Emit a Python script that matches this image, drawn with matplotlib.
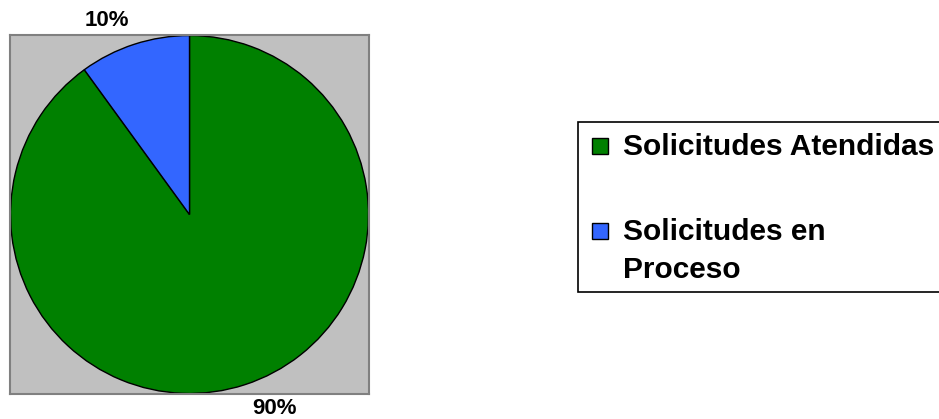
import matplotlib.pyplot as plt
from matplotlib.patches import Rectangle

# data
labels = ["Solicitudes Atendidas", "Solicitudes en\nProceso"]
values = [90, 10]
pct_labels = ["90%", "10%"]
colors = ["#008000", "#3366FF"]

W, H = 939, 419
fig = plt.figure(figsize=(W / 100, H / 100), dpi=100)
plt.rcParams['font.family'] = ['Liberation Sans', 'DejaVu Sans']

# pie area (gray square)
ax = fig.add_axes([10 / W, (H - 394) / H, 359 / W, 359 / H])
wedges, _ = ax.pie(values, colors=colors, startangle=90, counterclock=False,
                   radius=0.997, wedgeprops=dict(edgecolor="black", linewidth=1))
for w in wedges:
    w.set_clip_on(False)
ax.set_frame_on(True)
ax.set_facecolor("#C0C0C0")
for sp in ax.spines.values():
    sp.set_visible(True)
    sp.set_color("#808080")
    sp.set_linewidth(1.5)
ax.set_xticks([])
ax.set_yticks([])
ax.set_xlim(-1, 1)
ax.set_ylim(-1, 1)
ax.set_aspect('auto')

# percentage labels (placed like the excel chart)
label_pos = [(0.476, -1.078), (-0.46, 1.078)]
for (x, y), t in zip(label_pos, pct_labels):
    ax.text(x, y, t, ha='center', va='center', fontsize=16, fontweight='bold',
            clip_on=False)

# legend box, cut off at the right edge
def fx(px):
    return px / W

def fy(py):
    return 1 - py / H

fig.patches.append(Rectangle((fx(578), fy(292)), fx(420), 170 / H,
                             transform=fig.transFigure, facecolor='white',
                             edgecolor='black', linewidth=1.2, clip_on=False))
baselines = [155, 240]
for y, lab, c in zip(baselines, labels, colors):
    fig.patches.append(Rectangle((fx(592), fy(y - 1)), 16 / W, 16 / H,
                                 transform=fig.transFigure, facecolor=c,
                                 edgecolor='black', linewidth=1))
    for i, line in enumerate(lab.split("\n")):
        fig.text(fx(623), fy(y + 38 * i), line, ha='left', va='baseline',
                 fontsize=21.5, fontweight='bold')

fig.savefig("out.png", dpi=100)
